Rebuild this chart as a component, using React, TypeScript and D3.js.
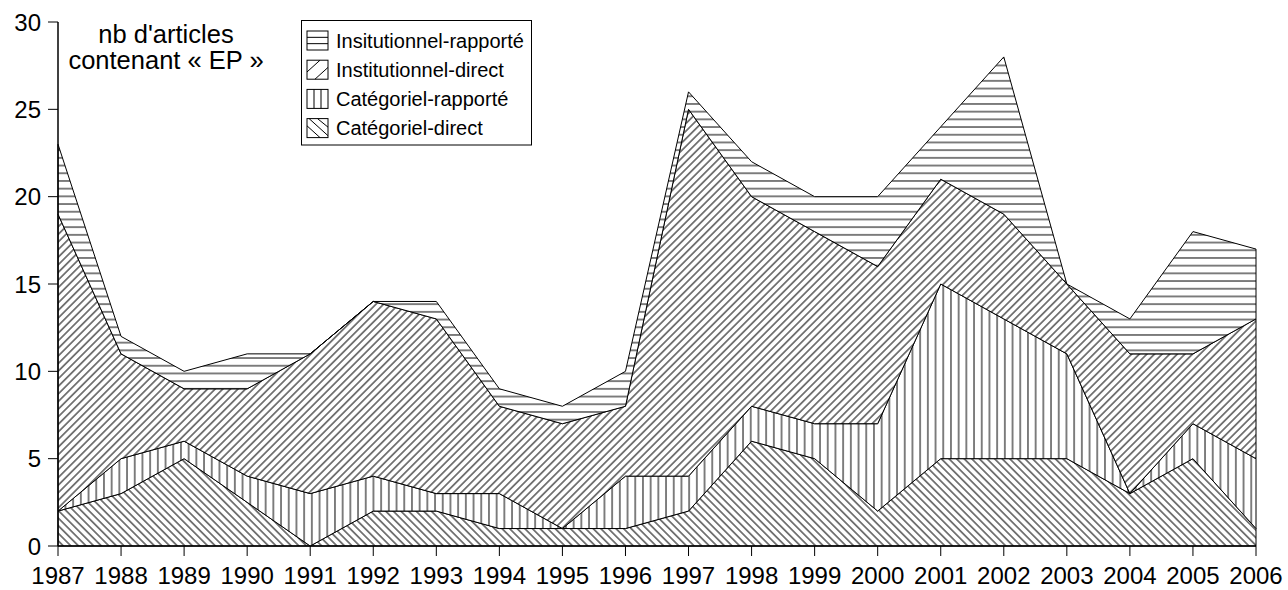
import React from 'react';
import * as d3 from 'd3';

const years = [1987, 1988, 1989, 1990, 1991, 1992, 1993, 1994, 1995, 1996, 1997, 1998, 1999, 2000, 2001, 2002, 2003, 2004, 2005, 2006];
const categorielDirect = [2, 3, 5, 2.5, 0, 2, 2, 1, 1, 1, 2, 6, 5, 2, 5, 5, 5, 3, 5, 1];
const categorielRapporte = [0, 2, 1, 1.5, 3, 2, 1, 2, 0, 3, 2, 2, 2, 5, 10, 8, 6, 0, 2, 4];
const institutionnelDirect = [17, 6, 3, 5, 8, 10, 10, 5, 6, 4, 21, 12, 11, 9, 6, 6, 4, 8, 4, 8];
const institutionnelRapporte = [4, 1, 1, 2, 0, 0, 1, 1, 1, 2, 1, 2, 2, 4, 3, 9, 0, 2, 7, 4];
const yTicks = [0, 5, 10, 15, 20, 25, 30];
const seriesKeys = ['cd', 'cr', 'id', 'ir'];
const legendLabels = ['Insitutionnel-rapporté', 'Institutionnel-direct', 'Catégoriel-rapporté', 'Catégoriel-direct'];
const legendKeys = ['ir', 'id', 'cr', 'cd'];
const titleLines = ["nb d'articles", 'contenant « EP »'];

const FONT = "'Liberation Sans', Arial, Helvetica, sans-serif";
const patternOf: Record<string, string> = { cd: 'url(#pat-back)', cr: 'url(#pat-v)', id: 'url(#pat-fwd)', ir: 'url(#pat-h)' };

export default function App() {
  const W = 1288, H = 590;
  const x = d3.scaleLinear().domain([1987, 2006]).range([58, 1256]);
  const y = d3.scaleLinear().domain([0, 30]).range([546, 22]);

  const table = years.map((yr, i) => ({
    year: yr,
    cd: categorielDirect[i],
    cr: categorielRapporte[i],
    id: institutionnelDirect[i],
    ir: institutionnelRapporte[i],
  }));
  const stacked = d3.stack<any>().keys(seriesKeys)(table);
  const area = d3.area<any>()
    .x((d) => x(d.data.year))
    .y0((d) => y(d[0]))
    .y1((d) => y(d[1]));

  const sp = 7.7;
  const dsp = 7.6 / Math.SQRT2;

  // legend geometry
  const lgX = 301.5, lgY = 20.5, lgW = 230, lgH = 124.5;
  const swX = 307, swW = 21, swH = 19, rowStep = 29.2, row0 = 31;

  const swatchLines = (key: string, sx: number, sy: number) => {
    const lines: [number, number, number, number][] = [];
    if (key === 'ir') {
      lines.push([sx, sy + swH / 3, sx + swW, sy + swH / 3]);
      lines.push([sx, sy + (2 * swH) / 3, sx + swW, sy + (2 * swH) / 3]);
    } else if (key === 'cr') {
      lines.push([sx + swW / 3, sy, sx + swW / 3, sy + swH]);
      lines.push([sx + (2 * swW) / 3, sy, sx + (2 * swW) / 3, sy + swH]);
    } else if (key === 'id') {
      lines.push([sx, sy + swH * 0.62, sx + swW * 0.62, sy]);
      lines.push([sx + swW * 0.38, sy + swH, sx + swW, sy + swH * 0.38]);
    } else {
      lines.push([sx, sy + swH * 0.38, sx + swW * 0.62, sy + swH]);
      lines.push([sx + swW * 0.1, sy, sx + swW, sy + swH * 0.9]);
      lines.push([sx + swW * 0.5, sy, sx + swW, sy + swH * 0.45]);
    }
    return lines;
  };

  return (
    <svg width={W} height={H} style={{ position: 'absolute', left: 0, top: 0, background: '#fff' }} fontFamily={FONT}>
      <defs>
        <pattern id="pat-h" patternUnits="userSpaceOnUse" width={10} height={sp}>
          <rect width={10} height={sp} fill="#fff" />
          <line x1={0} x2={10} y1={sp / 2} y2={sp / 2} stroke="#000" strokeWidth={1} />
        </pattern>
        <pattern id="pat-v" patternUnits="userSpaceOnUse" width={sp} height={10}>
          <rect width={sp} height={10} fill="#fff" />
          <line x1={sp / 2} x2={sp / 2} y1={0} y2={10} stroke="#000" strokeWidth={1} />
        </pattern>
        <pattern id="pat-fwd" patternUnits="userSpaceOnUse" width={dsp} height={10} patternTransform="rotate(45)">
          <rect width={dsp} height={10} fill="#fff" />
          <line x1={dsp / 2} x2={dsp / 2} y1={0} y2={10} stroke="#000" strokeWidth={1} />
        </pattern>
        <pattern id="pat-back" patternUnits="userSpaceOnUse" width={dsp} height={10} patternTransform="rotate(-45)">
          <rect width={dsp} height={10} fill="#fff" />
          <line x1={dsp / 2} x2={dsp / 2} y1={0} y2={10} stroke="#000" strokeWidth={1} />
        </pattern>
      </defs>

      {stacked.map((s) => (
        <path key={s.key} d={area(s) || ''} fill={patternOf[s.key]} stroke="#000" strokeWidth={1} strokeLinejoin="miter" />
      ))}

      {/* y axis */}
      <line x1={58} x2={58} y1={y(0)} y2={y(30)} stroke="#000" strokeWidth={1.5} />
      {yTicks.map((t) => (
        <g key={t}>
          <line x1={48} x2={58} y1={y(t)} y2={y(t)} stroke="#000" strokeWidth={1} />
          <text x={41} y={y(t)} dy="0.36em" textAnchor="end" fontSize={24} fill="#000">{t}</text>
        </g>
      ))}

      {/* x axis */}
      <line x1={x(1987)} x2={x(2006)} y1={546} y2={546} stroke="#000" strokeWidth={1.5} />
      {years.map((yr) => (
        <g key={yr}>
          <line x1={x(yr)} x2={x(yr)} y1={546} y2={556} stroke="#000" strokeWidth={1} />
          <text x={x(yr)} y={584} textAnchor="middle" fontSize={24} fill="#000">{yr}</text>
        </g>
      ))}

      {/* title */}
      {titleLines.map((t, i) => (
        <text key={i} x={166} y={43 + i * 26} textAnchor="middle" fontSize={25.5} fill="#000">{t}</text>
      ))}

      {/* legend */}
      <rect x={lgX} y={lgY} width={lgW} height={lgH} fill="#fff" stroke="#000" strokeWidth={1} />
      {legendKeys.map((k, i) => {
        const sy = row0 + i * rowStep;
        return (
          <g key={k}>
            <rect x={swX} y={sy} width={swW} height={swH} fill="#fff" stroke="#000" strokeWidth={1} />
            {swatchLines(k, swX, sy).map((l, j) => (
              <line key={j} x1={l[0]} y1={l[1]} x2={l[2]} y2={l[3]} stroke="#000" strokeWidth={1} />
            ))}
            <text x={336} y={sy + swH / 2} dy="0.36em" fontSize={20} fill="#000">{legendLabels[i]}</text>
          </g>
        );
      })}
    </svg>
  );
}
